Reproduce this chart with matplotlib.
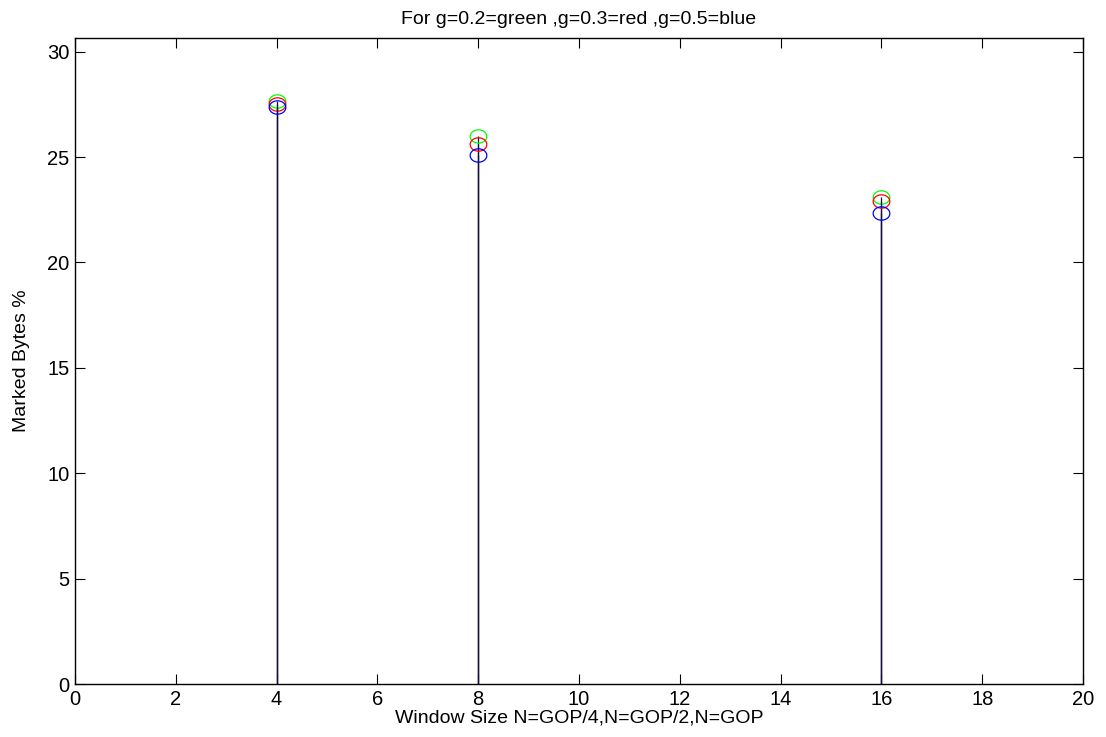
import numpy as np
import matplotlib.pyplot as plt
from matplotlib.path import Path

plt.rcParams['font.family'] = ['Liberation Sans', 'DejaVu Sans']

# window sizes and marked bytes (%) for each g
window = [4, 8, 16]
g02_green = [27.65, 26.0, 23.1]
g03_red = [27.53, 25.62, 22.92]
g05_blue = [27.38, 25.09, 22.35]

# slightly flattened circle, the original figure was stretched
t = np.linspace(0, 2 * np.pi, 60)
ellipse = Path(np.column_stack([1.25 * np.cos(t), np.sin(t)]))

fig = plt.figure(figsize=(11.06, 7.37), dpi=100)
ax = fig.add_axes([0.0678, 0.0719, 0.9115, 0.8765])

for vals, col in [(g02_green, '#00ff00'), (g03_red, '#ff0000'), (g05_blue, '#0000ff')]:
    ax.vlines(window, 0, vals, colors='#101040', linewidth=0.9)
    ax.plot(window, vals, linestyle='none', marker=ellipse, markersize=12,
            markerfacecolor='none', markeredgecolor=col, markeredgewidth=0.9)

ax.set_xlim(0, 20)
ax.set_ylim(0, 30.65)
ax.set_xticks(np.arange(0, 21, 2))
ax.set_yticks(np.arange(0, 31, 5))
ax.tick_params(direction='in', length=7, width=0.8, labelsize=14.5,
               top=True, right=True, pad=4)
for s in ax.spines.values():
    s.set_linewidth(1.0)

ax.set_xlabel('Window Size N=GOP/4,N=GOP/2,N=GOP', fontsize=14, labelpad=1)
ax.set_ylabel('Marked Bytes %', fontsize=14, labelpad=12)
ax.set_title('For g=0.2=green ,g=0.3=red ,g=0.5=blue', fontsize=14, pad=10)

fig.savefig('out.png', dpi=100)
